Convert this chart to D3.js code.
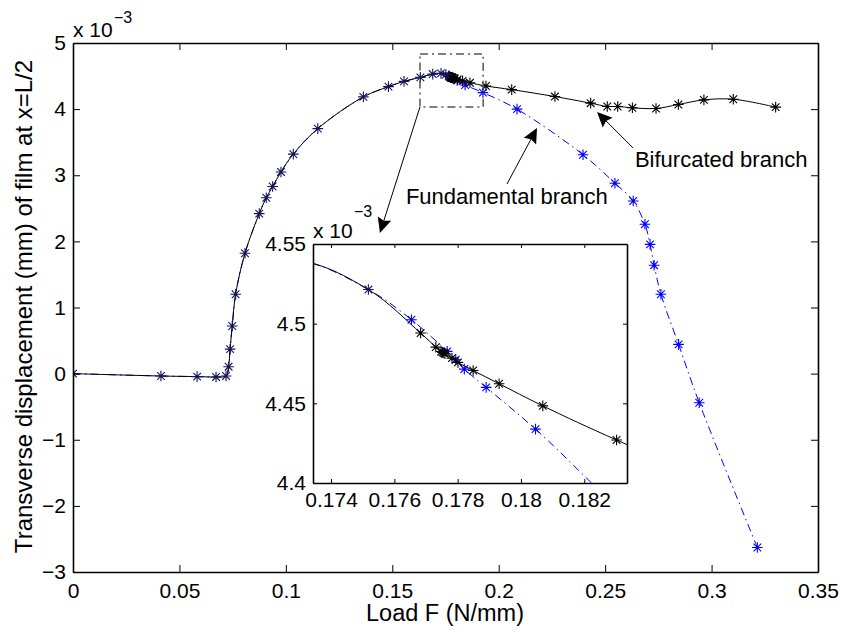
<!DOCTYPE html>
<html>
<head>
<meta charset="utf-8">
<script src="https://cdn.jsdelivr.net/npm/d3@7"></script>
<style>
  body { margin: 0; background: #fff; }
  svg { display: block; font-family: Arial, "Liberation Sans", Helvetica, sans-serif; }
</style>
</head>
<body>
<svg id="chart" width="843" height="633"></svg>
<script>
// ---- data (load in N/mm, displacement in 1e-3 mm) ----
// points common to both branches, up to the bifurcation point
var sharedLoad = [0, 0.0413, 0.0583, 0.0672, 0.0719, 0.0731, 0.0738, 0.0748, 0.0764, 0.0808,
                  0.0875, 0.0908, 0.0938, 0.0977, 0.1035, 0.115, 0.1364, 0.1482, 0.1555, 0.1632,
                  0.169, 0.1729, 0.17518];
var sharedDisp = [0, -0.036, -0.045, -0.05, -0.035, 0.105, 0.37, 0.72, 1.20, 1.82,
                  2.42, 2.66, 2.83, 3.05, 3.32, 3.705, 4.185, 4.34, 4.42, 4.48,
                  4.53, 4.54, 4.5214];

// fundamental branch after the bifurcation point (blue)
var fundLoad = [0.17654, 0.17767, 0.17794, 0.17821, 0.17890, 0.18046, 0.1842, 0.1926, 0.2086, 0.2396,
                0.2546, 0.2632, 0.2687, 0.2711, 0.2730, 0.2762, 0.2845, 0.2942, 0.3215];
var fundDisp = [4.5025, 4.4826, 4.4774, 4.4715, 4.4600, 4.4338, 4.365, 4.25, 4.0, 3.31,
                2.88, 2.61, 2.26, 1.955, 1.64, 1.20, 0.443, -0.44, -2.63];

// bifurcated branch after the bifurcation point (black)
var bifLoad = [0.17683, 0.17731, 0.17748, 0.17752, 0.17756, 0.17760, 0.17782, 0.17801, 0.17849, 0.17931,
               0.18069, 0.18302, 0.1865, 0.194, 0.2061, 0.2264, 0.2432, 0.2510, 0.2559, 0.2628,
               0.2739, 0.2844, 0.2964, 0.3102, 0.3301];
var bifDisp = [4.4941, 4.4853, 4.4825, 4.4820, 4.4816, 4.4811, 4.4784, 4.4757, 4.4706, 4.4623,
               4.4484, 4.4270, 4.398, 4.35, 4.295, 4.19, 4.09, 4.04, 4.04, 4.02,
               4.01, 4.07, 4.14, 4.15, 4.03];

// tick values
var xTicks = [0, 0.05, 0.1, 0.15, 0.2, 0.25, 0.3, 0.35];
var yTicks = [-3, -2, -1, 0, 1, 2, 3, 4, 5];
var insetXTicks = [0.174, 0.176, 0.178, 0.18, 0.182];
var insetYTicks = [4.4, 4.45, 4.5, 4.55];

// ---- scales ----
var xScale = d3.scaleLinear().domain([0, 0.35]).range([73, 818]);
var yScale = d3.scaleLinear().domain([-3, 5]).range([572, 43]);
var xInset = d3.scaleLinear().domain([0.17343, 0.18335]).range([313, 627]);
var yInset = d3.scaleLinear().domain([4.4, 4.55]).range([483, 244]);

function zip(a, b) { return a.map(function(v, i) { return {load: v, disp: b[i]}; }); }
var sharedPts = zip(sharedLoad, sharedDisp);
var fundPts = sharedPts.concat(zip(fundLoad, fundDisp));
var bifPts = sharedPts.concat(zip(bifLoad, bifDisp));

var svg = d3.select("#chart");
var defs = svg.append("defs");

// asterisk marker, like matlab '*'
function star(r) {
  var d = r * 0.72;
  return "M" + (-r) + ",0H" + r + "M0," + (-r) + "V" + r +
         "M" + (-d) + "," + (-d) + "L" + d + "," + d +
         "M" + (-d) + "," + d + "L" + d + "," + (-d);
}

function plotBranches(g, x, y) {
  var line = d3.line()
      .x(function(d) { return x(d.load); })
      .y(function(d) { return y(d.disp); })
      .curve(d3.curveCatmullRom.alpha(0.5));

  g.append("path").datum(fundPts)
      .attr("d", line)
      .attr("fill", "none")
      .attr("stroke", "#0000ff")
      .attr("stroke-width", 1)
      .attr("stroke-dasharray", "8,4,1.5,4");

  g.append("path").datum(bifPts)
      .attr("d", line)
      .attr("fill", "none")
      .attr("stroke", "#000")
      .attr("stroke-width", 1);

  var sets = [[zip(fundLoad, fundDisp), "#0000ff"], [zip(bifLoad, bifDisp), "#000"], [sharedPts, "#14145a"]];
  sets.forEach(function(s) {
    g.selectAll(null).data(s[0]).enter().append("path")
        .attr("transform", function(d) { return "translate(" + x(d.load) + "," + y(d.disp) + ")"; })
        .attr("d", star(5.3))
        .attr("fill", "none")
        .attr("stroke", s[1])
        .attr("stroke-width", 1.1);
  });
}

function boxAxes(g, x, y, tick, xt, yt, xfmt, yfmt, xpad, ypad) {
  var x0 = x.range()[0], x1 = x.range()[1], y0 = y.range()[0], y1 = y.range()[1];
  g.append("g").attr("transform", "translate(0," + y0 + ")")
      .call(d3.axisBottom(x).tickValues(xt).tickFormat(xfmt).tickSizeInner(-tick).tickSizeOuter(0).tickPadding(xpad));
  g.append("g").attr("transform", "translate(0," + y1 + ")")
      .call(d3.axisTop(x).tickValues(xt).tickFormat("").tickSizeInner(-tick).tickSizeOuter(0));
  g.append("g").attr("transform", "translate(" + x0 + ",0)")
      .call(d3.axisLeft(y).tickValues(yt).tickFormat(yfmt).tickSizeInner(-tick).tickSizeOuter(0).tickPadding(ypad));
  g.append("g").attr("transform", "translate(" + x1 + ",0)")
      .call(d3.axisRight(y).tickValues(yt).tickFormat("").tickSizeInner(-tick).tickSizeOuter(0));
  g.selectAll(".domain").attr("stroke", "#000").attr("stroke-width", 1.6);
  g.selectAll(".tick line").attr("stroke", "#000").attr("stroke-width", 1);
  g.selectAll(".tick text").attr("fill", "#000").style("font-size", "21px")
      .style("font-family", "Arial, 'Liberation Sans', Helvetica, sans-serif");
}

function arrow(g, x1, y1, x2, y2) {
  var ang = Math.atan2(y2 - y1, x2 - x1), L = 15, W = 7;
  var c = Math.cos(ang), s = Math.sin(ang);
  var bx = x2 - L * c, by = y2 - L * s;
  var nx = x2 - L * 0.85 * c, ny = y2 - L * 0.85 * s;
  g.append("line").attr("x1", x1).attr("y1", y1).attr("x2", nx).attr("y2", ny)
      .attr("stroke", "#000").attr("stroke-width", 1);
  g.append("path")
      .attr("d", "M" + x2 + "," + y2 +
                 "L" + (bx + W * s) + "," + (by - W * c) +
                 "L" + nx + "," + ny +
                 "L" + (bx - W * s) + "," + (by + W * c) + "Z")
      .attr("fill", "#000");
}

// ---- main axes ----
defs.append("clipPath").attr("id", "clipMain").append("rect")
    .attr("x", 73).attr("y", 43).attr("width", 745).attr("height", 529);
var main = svg.append("g");
main.append("rect").attr("x", 73).attr("y", 43).attr("width", 745).attr("height", 529).attr("fill", "#fff");
plotBranches(main.append("g").attr("clip-path", "url(#clipMain)"), xScale, yScale);
boxAxes(main, xScale, yScale, 7, xTicks, yTicks, d3.format("~g"), d3.format("~g"), 11, 7);

// exponent label
main.append("text").attr("x", 73).attr("y", 36.5).style("font-size", "21px").text("x 10");
main.append("text").attr("x", 114).attr("y", 23).style("font-size", "16px").text("\u22123");

// axis labels
main.append("text").attr("x", 445).attr("y", 621).attr("text-anchor", "middle")
    .style("font-size", "23.5px").text("Load F (N/mm)");
main.append("text").attr("transform", "translate(31.5,306.5) rotate(-90)").attr("text-anchor", "middle")
    .style("font-size", "24px").text("Transverse displacement (mm) of film at x=L/2");

// zoom window
main.append("rect")
    .attr("x", xScale(0.1630)).attr("y", yScale(4.835))
    .attr("width", xScale(0.1927) - xScale(0.1630)).attr("height", yScale(4.033) - yScale(4.835))
    .attr("fill", "none").attr("stroke", "#555").attr("stroke-width", 1.5)
    .attr("stroke-dasharray", "8,4,2,4");

// annotations
arrow(main, xScale(0.1630), yScale(4.033), xScale(0.1442), yScale(2.127));
arrow(main, xScale(0.2039), yScale(2.868), xScale(0.2180), yScale(3.716));
arrow(main, xScale(0.2631), yScale(3.413), xScale(0.2462), yScale(3.957));
main.append("text").attr("x", xScale(0.2640)).attr("y", 167).style("font-size", "22px").text("Bifurcated branch");
main.append("text").attr("x", xScale(0.1564)).attr("y", 204).style("font-size", "22px").text("Fundamental branch");

// ---- inset ----
defs.append("clipPath").attr("id", "clipInset").append("rect")
    .attr("x", 313).attr("y", 244).attr("width", 314).attr("height", 239);
var inset = svg.append("g");
inset.append("rect").attr("x", 313).attr("y", 244).attr("width", 314).attr("height", 239).attr("fill", "#fff");
plotBranches(inset.append("g").attr("clip-path", "url(#clipInset)"), xInset, yInset);
boxAxes(inset, xInset, yInset, 4, insetXTicks, insetYTicks, d3.format("~g"), d3.format("~g"), 9, 7);
inset.append("text").attr("x", 313).attr("y", 237.5).style("font-size", "21px").text("x 10");
inset.append("text").attr("x", 354).attr("y", 217).style("font-size", "16px").text("\u22123");
</script>
</body>
</html>
